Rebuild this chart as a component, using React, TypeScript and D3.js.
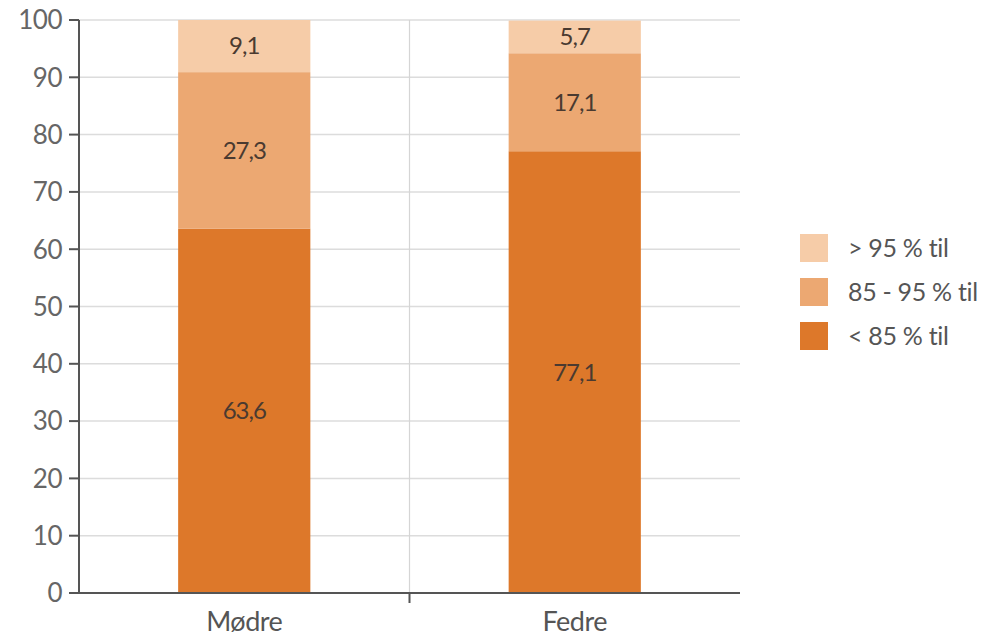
import React from "react";
import * as d3 from "d3";

const categories = ["Mødre", "Fedre"];
const seriesNames = ["< 85 % til", "85 - 95 % til", "> 95 % til"];
const under85 = [63.6, 77.1];
const mid85to95 = [27.3, 17.1];
const over95 = [9.1, 5.7];
const yTicks = [0, 10, 20, 30, 40, 50, 60, 70, 80, 90, 100];
const colors = ["#DD782A", "#ECA872", "#F6CCA8"];

const W = 1001;
const H = 639;
const margin = { left: 79, right: 261, top: 20, bottom: 46 };

export default function App() {
  const x = d3
    .scaleBand<string>()
    .domain(categories)
    .range([margin.left, W - margin.right])
    .paddingInner(0.6)
    .paddingOuter(0.3);
  const y = d3.scaleLinear().domain([0, 100]).range([H - margin.bottom, margin.top]);

  const rows = categories.map((c, i) => ({
    cat: c,
    s0: under85[i],
    s1: mid85to95[i],
    s2: over95[i],
  }));
  const stacked = d3.stack<any>().keys(["s0", "s1", "s2"])(rows);
  const fmt = (v: number) => v.toFixed(1).replace(".", ",");
  const font = "Lato, 'Open Sans', sans-serif";
  const step = x.step();
  const x0 = margin.left;
  const x1 = W - margin.right;

  return (
    <svg
      width={W}
      height={H}
      style={{ position: "absolute", left: 0, top: 0, background: "#fff" }}
      fontFamily={font}
    >
      {yTicks.filter((t) => t > 0).map((t) => (
        <line key={t} x1={x0} x2={x1} y1={y(t)} y2={y(t)} stroke="#DCDCDC" strokeWidth={1.5} />
      ))}
      <line
        x1={x0 + step}
        x2={x0 + step}
        y1={y(100)}
        y2={y(0)}
        stroke="#D5D5D5"
        strokeWidth={1.2}
      />
      {stacked.map((layer, li) =>
        layer.map((d, i) => (
          <rect
            key={`${li}-${i}`}
            x={x(categories[i])}
            width={x.bandwidth()}
            y={y(d[1])}
            height={y(d[0]) - y(d[1])}
            fill={colors[li]}
          />
        ))
      )}
      {stacked.map((layer, li) =>
        layer.map((d, i) => (
          <text
            key={`t${li}-${i}`}
            x={(x(categories[i]) as number) + x.bandwidth() / 2}
            y={(y(d[0]) + y(d[1])) / 2}
            dy="0.35em"
            textAnchor="middle"
            fontSize={24}
            fill="#4A3A30"
            letterSpacing={-1}
          >
            {fmt(d[1] - d[0])}
          </text>
        ))
      )}
      <line x1={x0} x2={x0} y1={y(100)} y2={y(0)} stroke="#555" strokeWidth={2} />
      {yTicks.map((t) => (
        <g key={`yt${t}`}>
          <line x1={x0 - 10} x2={x0} y1={y(t)} y2={y(t)} stroke="#555" strokeWidth={2} />
          <text
            x={x0 - 17}
            y={y(t)}
            dy="0.36em"
            textAnchor="end"
            fontSize={26}
            fill="#666"
            letterSpacing={-0.5}
          >
            {t}
          </text>
        </g>
      ))}
      <line x1={x0 - 10} x2={x1} y1={y(0)} y2={y(0)} stroke="#555" strokeWidth={2} />
      <line x1={x0 + step} x2={x0 + step} y1={y(0)} y2={y(0) + 10} stroke="#555" strokeWidth={2} />
      {categories.map((c) => (
        <text
          key={c}
          x={(x(c) as number) + x.bandwidth() / 2}
          y={y(0) + 38}
          textAnchor="middle"
          fontSize={27}
          fill="#555"
          letterSpacing={-0.5}
        >
          {c}
        </text>
      ))}
      {[2, 1, 0].map((si, k) => (
        <g key={`lg${si}`} transform={`translate(800, ${234 + k * 44})`}>
          <rect width={28} height={28} fill={colors[si]} />
          <text x={48} y={14} dy="0.36em" fontSize={25} fill="#555" letterSpacing={-0.3}>
            {seriesNames[si]}
          </text>
        </g>
      ))}
    </svg>
  );
}
